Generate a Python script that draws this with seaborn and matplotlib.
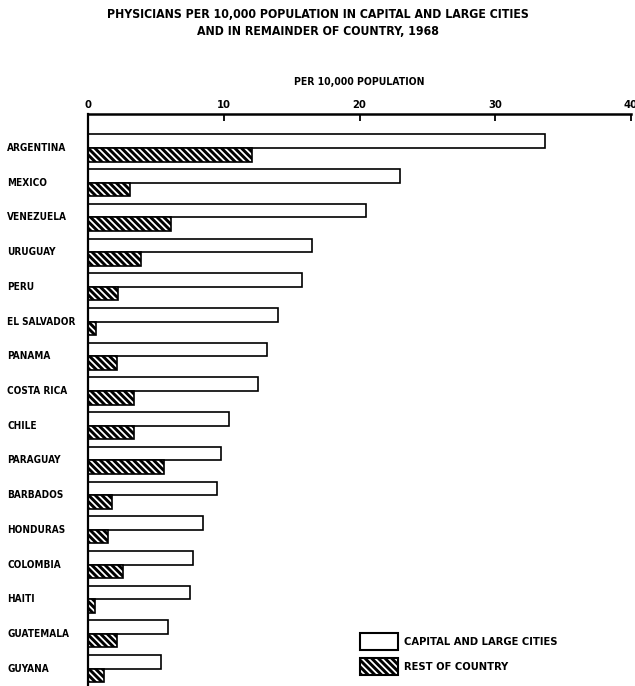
import numpy as np
import pandas as pd
import matplotlib
matplotlib.use("Agg")
import matplotlib.pyplot as plt
import seaborn as sns
from matplotlib.patches import Patch

countries = ["ARGENTINA", "MEXICO", "VENEZUELA", "URUGUAY", "PERU", "EL SALVADOR",
             "PANAMA", "COSTA RICA", "CHILE", "PARAGUAY", "BARBADOS", "HONDURAS",
             "COLOMBIA", "HAITI", "GUATEMALA", "GUYANA"]
capital = [33.7, 23.0, 20.5, 16.5, 15.8, 14.0, 13.2, 12.5, 10.4, 9.8, 9.5, 8.5,
           7.7, 7.5, 5.9, 5.4]
rest = [12.1, 3.1, 6.1, 3.9, 2.2, 0.6, 2.1, 3.4, 3.4, 5.6, 1.8, 1.5, 2.6, 0.5,
        2.1, 1.2]
series = ["CAPITAL AND LARGE CITIES", "REST OF COUNTRY"]
x_ticks = [0, 10, 20, 30, 40]

sns.set_theme(style="white")
plt.rcParams.update({
    "font.family": ["DejaVu Sans"],
    "font.stretch": "condensed",
    "font.weight": "bold",
    "text.color": "black",
    "axes.labelcolor": "black",
    "xtick.color": "black",
    "ytick.color": "black",
    "hatch.linewidth": 2.1,
    "hatch.color": "black",
})

df = pd.DataFrame({
    "country": countries * 2,
    "value": capital + rest,
    "series": [series[0]] * len(countries) + [series[1]] * len(countries),
})

HATCH = "\\" * 5

fig = plt.figure(figsize=(6.35, 6.86), dpi=100)
ax = fig.add_axes([88 / 635, 0.0, (631 - 88) / 635, 1 - 114 / 686])

sns.barplot(data=df, y="country", x="value", hue="series", order=countries,
            hue_order=series, orient="h", width=0.78, dodge=True, gap=0,
            palette=["white", "white"], saturation=1, edgecolor="black",
            linewidth=1.2, legend=False, ax=ax)
for bar in ax.containers[1]:
    bar.set_hatch(HATCH)

ax.set_xlim(0, 40)
ax.set_ylim(15.5, -0.98)
ax.set_xticks(x_ticks)
ax.xaxis.tick_top()
ax.xaxis.set_label_position("top")
ax.set_xlabel("PER 10,000 POPULATION", fontsize=7.5, fontweight="bold",
              fontstretch="condensed", labelpad=11)
ax.set_ylabel("")
ax.tick_params(axis="x", top=True, bottom=False, direction="in", length=5,
               width=1.3, pad=3, labelsize=8)
ax.tick_params(axis="y", left=False, length=0, pad=58, labelsize=7.2)
for lab in ax.get_yticklabels():
    lab.set_horizontalalignment("left")
    lab.set_verticalalignment("center")
    lab.set_fontweight("bold")
    lab.set_fontstretch("condensed")
for lab in ax.get_xticklabels():
    lab.set_fontweight("bold")
    lab.set_fontstretch("condensed")

for side in ("right", "bottom"):
    ax.spines[side].set_visible(False)
ax.spines["left"].set_linewidth(1.6)
ax.spines["top"].set_linewidth(1.8)
ax.spines["left"].set_color("black")
ax.spines["top"].set_color("black")

fig.text(0.5, 1 - 23 / 686,
         "PHYSICIANS PER 10,000 POPULATION IN CAPITAL AND LARGE CITIES\n"
         "AND IN REMAINDER OF COUNTRY, 1968",
         ha="center", va="center", fontsize=8.8, fontweight="bold",
         fontstretch="condensed", linespacing=1.4)

handles = [Patch(facecolor="white", edgecolor="black", linewidth=1.5),
           Patch(facecolor="white", edgecolor="black", linewidth=1.5, hatch=HATCH)]
fig.legend(handles=handles, labels=series, loc="upper left",
           bbox_to_anchor=(360 / 635, 1 - 633 / 686), frameon=False,
           borderpad=0, borderaxespad=0, handlelength=3.4,
           handleheight=2.0, handletextpad=0.55, labelspacing=0.7,
           prop={"weight": "bold", "size": 8, "stretch": "condensed"})

fig.savefig("out.png", dpi=100, facecolor="white")
